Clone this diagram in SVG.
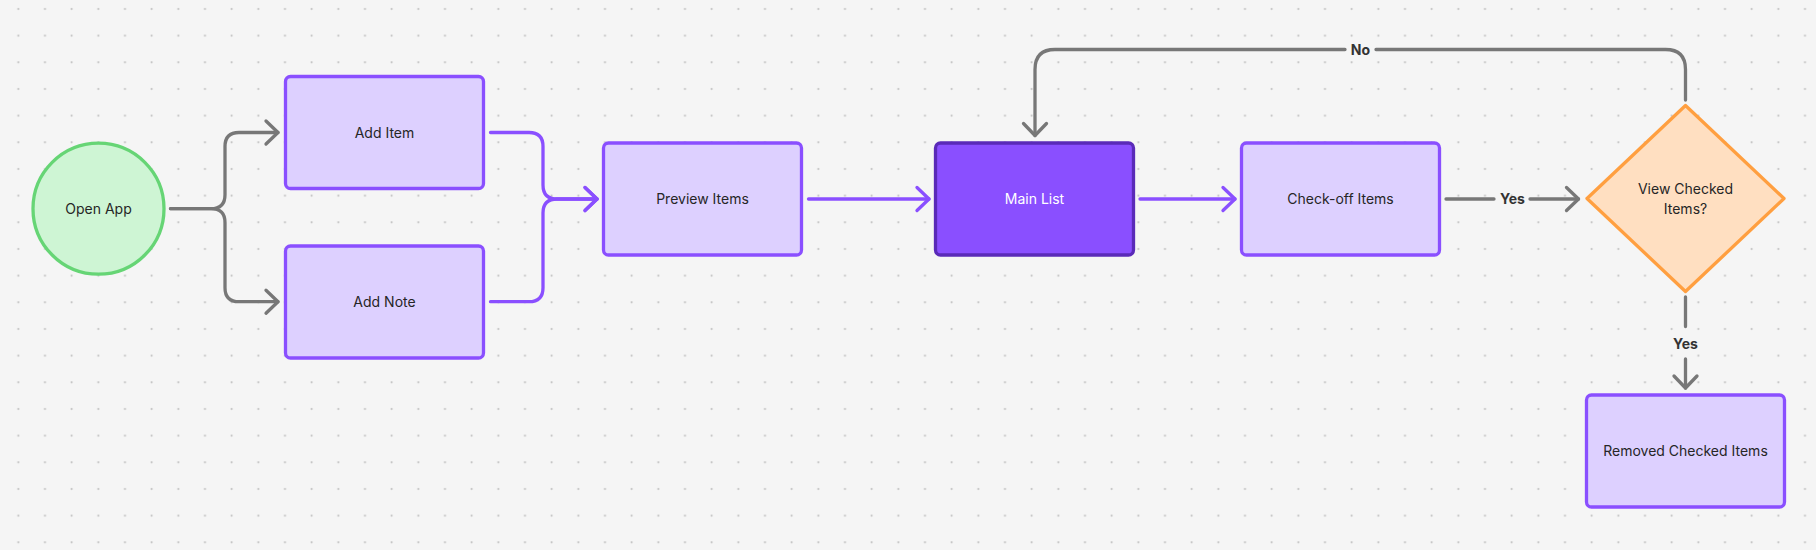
<svg xmlns="http://www.w3.org/2000/svg" width="1816" height="550" viewBox="0 0 1816 550">
<style>
.lbl{font-family:Inter,"Liberation Sans",sans-serif;font-size:14px;fill:#262626;text-anchor:middle}
.elbl{font-family:Inter,"Liberation Sans",sans-serif;font-size:14px;font-weight:700;fill:#333;text-anchor:middle}
.box{fill:#ddd0ff;stroke:#8a4fff;stroke-width:3.3}
.g{fill:none;stroke:#777;stroke-width:3.3;stroke-linecap:round;stroke-linejoin:round}
.p{fill:none;stroke:#8a4fff;stroke-width:3.3;stroke-linecap:round;stroke-linejoin:round}
</style>
<defs>
<pattern id="dots" patternUnits="userSpaceOnUse" width="26.667" height="26.667">
<circle cx="18.3" cy="9" r="1.1" fill="#c2c2c2"/>
</pattern>
<marker id="ag" markerUnits="userSpaceOnUse" markerWidth="30" markerHeight="30" refX="0" refY="0" orient="auto" overflow="visible">
<path d="M-12,-11.5 L0,0 L-12,11.5" fill="none" stroke="#777" stroke-width="3.3" stroke-linecap="round" stroke-linejoin="round"/>
</marker>
<marker id="ap" markerUnits="userSpaceOnUse" markerWidth="30" markerHeight="30" refX="0" refY="0" orient="auto" overflow="visible">
<path d="M-12,-11.5 L0,0 L-12,11.5" fill="none" stroke="#8a4fff" stroke-width="3.3" stroke-linecap="round" stroke-linejoin="round"/>
</marker>
</defs>
<rect width="1816" height="550" fill="#f5f5f5"/>
<rect width="1816" height="550" fill="url(#dots)"/>

<g id="connectors">
<path class="g" d="M170.5,208.7 H211 Q225,208.7 225,194.7 V146.5 Q225,132.5 239,132.5 H278" marker-end="url(#ag)"/>
<path class="g" d="M170.5,208.7 H211 Q225,208.7 225,222.7 V287.7 Q225,301.7 239,301.7 H278" marker-end="url(#ag)"/>
<path class="p" d="M490.5,132.5 H529 Q543,132.5 543,146.5 V185 Q543,199 557,199 H597" marker-end="url(#ap)"/>
<path class="p" d="M490.5,301.7 H529 Q543,301.7 543,287.7 V213 Q543,199 557,199 H597" marker-end="url(#ap)"/>
<path class="p" d="M808.5,199 H929" marker-end="url(#ap)"/>
<path class="p" d="M1140,199 H1235" marker-end="url(#ap)"/>
<path class="g" d="M1446,199 H1494 M1530,199 H1578.5" marker-end="url(#ag)"/>
<text class="elbl" x="1512.5" y="204">Yes</text>
<path class="g" d="M1685.5,297 V326.5 M1685.5,359 V388" marker-end="url(#ag)"/>
<text class="elbl" x="1685.5" y="348.5">Yes</text>
<path class="g" d="M1685.5,100 V69.5 Q1685.5,49.5 1665.5,49.5 H1376 M1345,49.5 H1055 Q1035,49.5 1035,69.5 V135.5" marker-end="url(#ag)"/>
<text class="elbl" x="1360.5" y="54.5">No</text>
</g>

<g id="open-app">
<circle cx="98.5" cy="208.7" r="65.5" fill="#cef5d4" stroke="#66d575" stroke-width="3.3"/>
<text class="lbl" x="98.5" y="214">Open App</text>
</g>
<g id="add-item">
<rect class="box" x="285.5" y="76.5" width="198" height="112" rx="5"/>
<text class="lbl" x="384.5" y="137.5">Add Item</text>
</g>
<g id="add-note">
<rect class="box" x="285.5" y="246" width="198" height="112" rx="5"/>
<text class="lbl" x="384.5" y="307">Add Note</text>
</g>
<g id="preview-items">
<rect class="box" x="603.5" y="143" width="198" height="112" rx="5"/>
<text class="lbl" x="702.5" y="204">Preview Items</text>
</g>
<g id="main-list">
<rect x="935.5" y="143" width="198" height="112" rx="5" fill="#8a4fff" stroke="#5a2ab8" stroke-width="3.3"/>
<text class="lbl" x="1034.5" y="204" style="fill:#fff">Main List</text>
</g>
<g id="check-off-items">
<rect class="box" x="1241.5" y="143" width="198" height="112" rx="5"/>
<text class="lbl" x="1340.5" y="204">Check-off Items</text>
</g>
<g id="view-checked">
<path d="M1685.5,105.5 L1784,198.5 L1685.5,291.5 L1587,198.5 Z" fill="#ffdfc1" stroke="#ff9f40" stroke-width="3.3" stroke-linejoin="round"/>
<text class="lbl" x="1685.5" y="194">View Checked</text>
<text class="lbl" x="1685.5" y="214">Items?</text>
</g>
<g id="removed-checked-items">
<rect class="box" x="1586.5" y="395" width="198" height="112" rx="5"/>
<text class="lbl" x="1685.5" y="456">Removed Checked Items</text>
</g>
</svg>
